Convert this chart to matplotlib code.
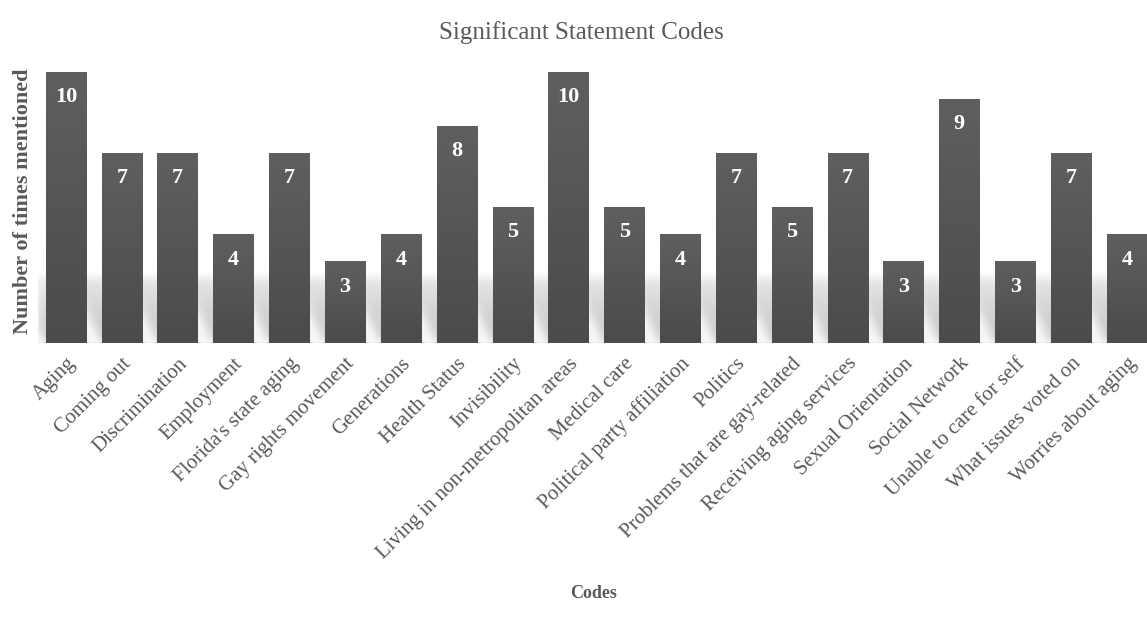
import numpy as np
import matplotlib.pyplot as plt
from matplotlib.colors import LinearSegmentedColormap

codes = ['Aging', 'Coming out', 'Discrimination', 'Employment', "Florida's state aging",
         'Gay rights movement', 'Generations', 'Health Status', 'Invisibility',
         'Living in non-metropolitan areas', 'Medical care', 'Political party affiliation',
         'Politics', 'Problems that are gay-related', 'Receiving aging services',
         'Sexual Orientation', 'Social Network', 'Unable to care for self',
         'What issues voted on', 'Worries about aging']
counts = [10, 7, 7, 4, 7, 3, 4, 8, 5, 10, 5, 4, 7, 5, 7, 3, 9, 3, 7, 4]

plt.rcParams['font.family'] = ['Liberation Serif', 'DejaVu Serif']

W, H = 1147, 628
fig = plt.figure(figsize=(W / 100, H / 100), dpi=100)
# axes: x from 38px to right edge, y from 72px (value 10) to 343px (value 0)
ax = fig.add_axes([38 / W, 1 - 343 / H, (W - 38) / W, (343 - 72) / H])

x = np.arange(len(codes))
bw = 0.72
xmin, xmax = -0.5, 19.36
ax.set_xlim(xmin, xmax)
ax.set_ylim(0, 10)

# soft slanted shadow behind each bar
nx, ny = 1200, 220
gx = np.linspace(xmin, xmax, nx)
gy = np.linspace(0, 3.4, ny)
GX, GY = np.meshgrid(gx, gy)
shade = np.zeros_like(GX)
hs, shift = 2.4, 0.6
for xi in x:
    off = shift * GY / hs
    inside = (GX >= xi - bw / 2 - off) & (GX <= xi + bw / 2 - off) & (GY <= hs)
    shade = np.maximum(shade, inside * (1 - 0.6 * GY / hs))

def blur(a, sigma, axis):
    r = int(3 * sigma)
    k = np.exp(-0.5 * (np.arange(-r, r + 1) / sigma) ** 2)
    k /= k.sum()
    return np.apply_along_axis(lambda m: np.convolve(m, k, mode='same'), axis, a)

shade = blur(blur(shade, 6, 1), 10, 0)
cmap = LinearSegmentedColormap.from_list('sh', [(0.6, 0.6, 0.6, 0.0), (0.6, 0.6, 0.6, 0.6)])
ax.imshow(shade, extent=[xmin, xmax, 0, 3.4], origin='lower', aspect='auto',
          cmap=cmap, vmin=0, vmax=1, zorder=1, interpolation='bilinear')

# gradient bars
grad = np.linspace(0, 1, 256).reshape(-1, 1)
bcmap = LinearSegmentedColormap.from_list('bar', ['#4b4b4b', '#5f5f5f'])
bars = ax.bar(x, counts, width=bw, color='none', zorder=2)
for b, v in zip(bars, counts):
    x0 = b.get_x()
    ax.imshow(grad, extent=[x0, x0 + bw, 0, v], origin='lower', aspect='auto',
              cmap=bcmap, zorder=3)
    ax.text(b.get_x() + bw / 2, v - 0.92, str(v), ha='center', va='center',
            color='white', fontsize=16, fontweight='bold', zorder=4)

ax.axhline(0, color='#ececec', lw=2, zorder=0)

for s in ax.spines.values():
    s.set_visible(False)
ax.set_yticks([])
ax.set_xticks(x)
ax.set_xticklabels(codes, rotation=45, ha='right', rotation_mode='anchor',
                   fontsize=15, color='#595959')
ax.tick_params(axis='x', length=0, pad=8)

fig.text(581 / W, 1 - 33 / H, 'Significant Statement Codes', ha='center', va='center',
         fontsize=18, color='#595959')
fig.text(23 / W, 1 - 201 / H, 'Number of times mentioned', ha='center', va='center',
         rotation=90, fontsize=16, fontweight='bold', color='#595959')
fig.text(594 / W, 1 - 593 / H, 'Codes', ha='center', va='center',
         fontsize=13, fontweight='bold', color='#595959')

fig.savefig('out.png', dpi=100)
